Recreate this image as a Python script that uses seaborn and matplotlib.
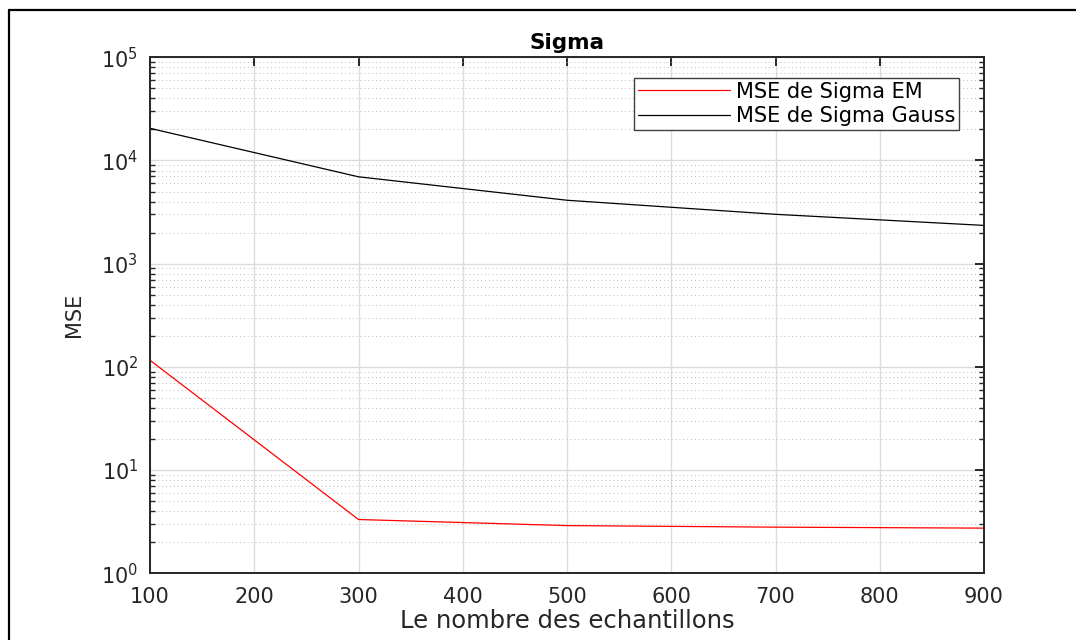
import numpy as np
import pandas as pd
import seaborn as sns
import matplotlib
matplotlib.use("Agg")
import matplotlib.pyplot as plt
from matplotlib.lines import Line2D
from matplotlib.ticker import LogLocator, FixedLocator, NullFormatter

# ---- data ----
samples = [100, 300, 500, 700, 900]
mse_em = [116, 3.32, 2.90, 2.80, 2.74]
mse_gauss = [20500, 6950, 4120, 3010, 2350]
series_names = ["MSE de Sigma EM", "MSE de Sigma Gauss"]
x_ticks = [100, 200, 300, 400, 500, 600, 700, 800, 900]
y_ticks = [1, 10, 100, 1000, 10000, 100000]

df = pd.DataFrame({
    "n": samples * 2,
    "mse": mse_em + mse_gauss,
    "serie": [series_names[0]] * len(samples) + [series_names[1]] * len(samples),
})

sns.set_theme(style="white")
plt.rcParams["font.family"] = ["DejaVu Sans"]
plt.rcParams["mathtext.fontset"] = "dejavusans"

fig = plt.figure(figsize=(10.76, 6.40), dpi=100)
ax = fig.add_axes([150 / 1076, 1 - 573.3 / 640, (984 - 150) / 1076, (573.3 - 57.3) / 640])

sns.lineplot(data=df, x="n", y="mse", hue="serie", ax=ax,
             palette={series_names[0]: "#ff0000", series_names[1]: "#000000"},
             linewidth=0.9, legend=False)

ax.set_yscale("log")
ax.set_xlim(100, 900)
ax.set_ylim(1, 1e5)
ax.xaxis.set_major_locator(FixedLocator(x_ticks))
ax.yaxis.set_major_locator(FixedLocator(y_ticks))
ax.yaxis.set_minor_locator(LogLocator(base=10, subs=np.arange(2, 10), numticks=20))
ax.yaxis.set_minor_formatter(NullFormatter())
ax.set_yticklabels([r"$\mathregular{10^{%d}}$" % int(np.log10(v)) for v in y_ticks])

dark = "#262626"
for s in ax.spines.values():
    s.set_visible(True)
    s.set_color(dark)
    s.set_linewidth(1.4)

ax.tick_params(axis="both", which="major", direction="in", length=6.5, width=1.4,
               top=True, right=True, labelsize=15, colors=dark)
ax.tick_params(axis="x", which="major", pad=10)
ax.tick_params(axis="y", which="major", pad=8.5)
ax.tick_params(axis="y", which="minor", direction="in", length=3.5, width=1.0,
               left=True, right=True, colors=dark)
ax.tick_params(axis="x", which="minor", bottom=False, top=False)

ax.grid(True, which="major", axis="both", color="#dcdcdc", linewidth=1.0, linestyle="-")
ax.grid(True, which="minor", axis="y", color="#bdbdbd", linewidth=0.7, linestyle=(0, (1, 3)))
ax.set_axisbelow(True)

ax.set_title("Sigma", fontsize=15.5, fontweight="bold", color="black", pad=6)
ax.set_xlabel("Le nombre des echantillons", fontsize=17.5, color=dark, labelpad=1)
ax.set_ylabel("MSE", fontsize=15, color=dark, labelpad=12)

handles = [Line2D([0], [0], color="#ff0000", lw=0.9),
           Line2D([0], [0], color="#000000", lw=0.9)]
leg = ax.legend(handles, series_names, loc="upper right",
                bbox_to_anchor=(959 / 1076, 1 - 78 / 640), bbox_transform=fig.transFigure,
                borderaxespad=0, fontsize=15, handlelength=4.4, handletextpad=0.3,
                labelspacing=0.22, borderpad=0.18, fancybox=False, framealpha=1,
                edgecolor="#404040")
leg.get_frame().set_linewidth(1.0)
for t in leg.get_texts():
    t.set_color("black")

# outer frame (cut at right and bottom)
fig.add_artist(Line2D([9 / 1076, 1.0], [1 - 10 / 640, 1 - 10 / 640],
                      transform=fig.transFigure, color="black", lw=1.6))
fig.add_artist(Line2D([9 / 1076, 9 / 1076], [0.0, 1 - 10 / 640],
                      transform=fig.transFigure, color="black", lw=1.6))

fig.savefig("out.png", dpi=100, facecolor="white")
